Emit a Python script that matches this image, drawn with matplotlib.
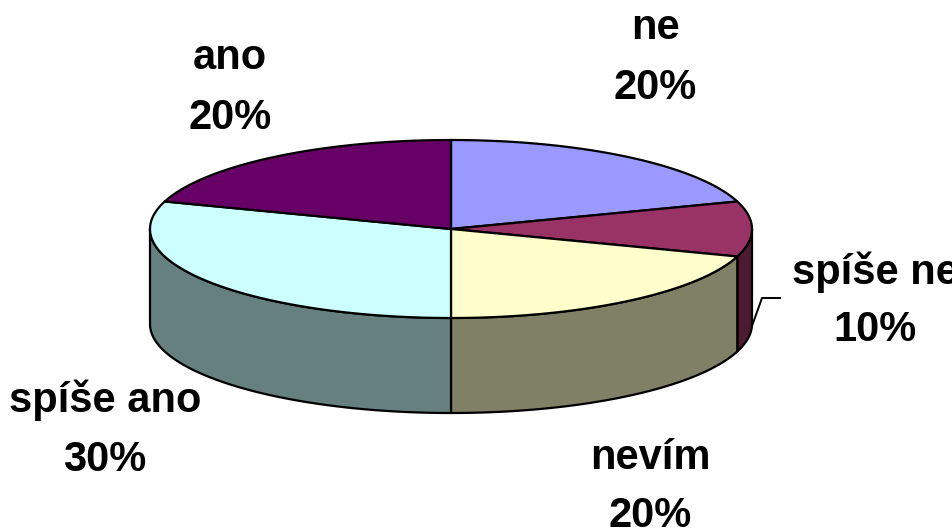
import numpy as np
import matplotlib
matplotlib.use("Agg")
import matplotlib.pyplot as plt
from matplotlib.patches import Polygon

labels = ["ne", "spíše ne", "nevím", "spíše ano", "ano"]
values = [20, 10, 20, 30, 20]
top_colors = ["#9999FF", "#993366", "#FFFFCC", "#CCFFFF", "#660066"]
side_colors = ["#4D4D80", "#4D1A33", "#808066", "#668080", "#330033"]

# pie geometry (pixels)
cx, cy = 451, 229
rx, ry = 301, 89
depth = 95

# label anchor points (name line, percent line)
label_pos = [(655, 28, 88), (875, 272, 330), (650, 458, 516), (105, 400, 460), (230, 58, 118)]

fig = plt.figure(figsize=(9.52, 5.31), dpi=100)
ax = fig.add_axes([0, 0, 1, 1])
ax.set_xlim(0, 952)
ax.set_ylim(531, 0)
ax.axis("off")

def arc(t1, t2, dy=0, n=120):
    t = np.radians(np.linspace(t1, t2, n))
    return np.column_stack([cx + rx * np.cos(t), cy + dy - ry * np.sin(t)])

total = sum(values)
start = 90.0
spans = []
for v in values:
    end = start - 360.0 * v / total
    spans.append((start, end))
    start = end

# front side walls
for (a, b), col in zip(spans, side_colors):
    lo, hi = max(b, -180.0), min(a, 0.0)
    if hi <= lo:
        continue
    top = arc(hi, lo)
    bot = arc(lo, hi, dy=depth)
    ax.add_patch(Polygon(np.vstack([top, bot]), closed=True, facecolor=col,
                         edgecolor="black", linewidth=1.6, joinstyle="round"))

# top faces
for (a, b), col in zip(spans, top_colors):
    pts = np.vstack([[cx, cy], arc(a, b)])
    ax.add_patch(Polygon(pts, closed=True, facecolor=col, edgecolor="black",
                         linewidth=1.6, joinstyle="round"))

# leader line for the small slice
ax.plot([780, 762, 752], [298, 298, 326], color="black", linewidth=1.4)

font = dict(family="Liberation Sans", weight="bold", fontsize=30, ha="center", va="center")
for lab, v, (x, y1, y2) in zip(labels, values, label_pos):
    ax.text(x, y1, lab, **font)
    ax.text(x, y2, f"{round(100 * v / total)}%", **font)

fig.savefig("out.png", dpi=100)
